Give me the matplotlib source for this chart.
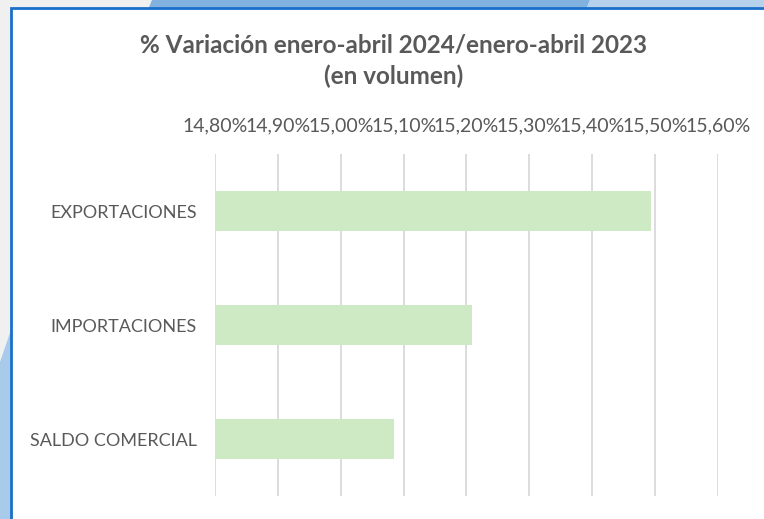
import numpy as np
import matplotlib.pyplot as plt
from matplotlib.patches import Polygon, Rectangle

plt.rcParams['font.family'] = ['Lato', 'DejaVu Sans']

categorias = ["EXPORTACIONES", "IMPORTACIONES", "SALDO COMERCIAL"]
valores = [15.493, 15.209, 15.084]  # % variacion en volumen
ticks = [14.8, 14.9, 15.0, 15.1, 15.2, 15.3, 15.4, 15.5, 15.6]
tick_labels = ["14,80%", "14,90%", "15,00%", "15,10%", "15,20%",
               "15,30%", "15,40%", "15,50%", "15,60%"]

W, H = 764, 519
fig = plt.figure(figsize=(W / 100, H / 100), dpi=100)
fig.patch.set_facecolor("#f0f0f0")

# fondo decorativo (coordenadas en pixeles de la figura)
def px(pts):
    return [(x / W, 1 - y / H) for x, y in pts]

fig.patches.append(Polygon(px([(152, 0), (590, 0), (585, 12), (147, 12)]),
                           closed=True, transform=fig.transFigure,
                           facecolor="#80b1df", edgecolor="none", zorder=0))
fig.patches.append(Polygon(px([(590, 0), (764, 0), (764, 12), (585, 12)]),
                           closed=True, transform=fig.transFigure,
                           facecolor="#b5d1ec", edgecolor="none", zorder=0))
fig.patches.append(Polygon(px([(11, 330), (11, 519), (0, 519), (0, 362)]),
                           closed=True, transform=fig.transFigure,
                           facecolor="#a9cbeb", edgecolor="none", zorder=0))
# area del grafico con borde azul
fig.patches.append(Rectangle((11 / W, -0.01), 1.0, 1 - 8 / H + 0.01,
                             transform=fig.transFigure, facecolor="white",
                             edgecolor="#1a6fc9", linewidth=2, zorder=1))

ax = fig.add_axes([215 / W, 1 - 496 / H, (718 - 215) / W, (496 - 154) / H])
ax.set_facecolor("none")
ax.set_zorder(2)

y = np.arange(len(categorias))
base = ticks[0]
ax.barh(y, np.array(valores) - base, left=base, height=0.357,
        color="#cdeac5", zorder=2)

ax.set_xlim(ticks[0], ticks[-1])
ax.set_ylim(len(categorias) - 0.5, -0.5)
ax.set_xticks(ticks)
ax.set_xticklabels(tick_labels)
ax.set_yticks(y)
ax.set_yticklabels(categorias)
ax.xaxis.tick_top()
ax.tick_params(axis="x", length=0, pad=14, labelsize=14, colors="#595959")
ax.tick_params(axis="y", length=0, pad=13, labelsize=13, colors="#595959")
ax.grid(axis="x", color="#d9d9d9", linewidth=1.3, zorder=0)
ax.set_axisbelow(True)
for s in ax.spines.values():
    s.set_visible(False)

fig.text(394 / W, 1 - 45 / H, "% Variación enero-abril 2024/enero-abril 2023",
         ha="center", va="center", fontsize=17.5, fontweight="bold", color="#595959")
fig.text(394 / W, 1 - 76 / H, "(en volumen)",
         ha="center", va="center", fontsize=17.5, fontweight="bold", color="#595959")

fig.savefig("out.png", dpi=100, facecolor=fig.get_facecolor())
